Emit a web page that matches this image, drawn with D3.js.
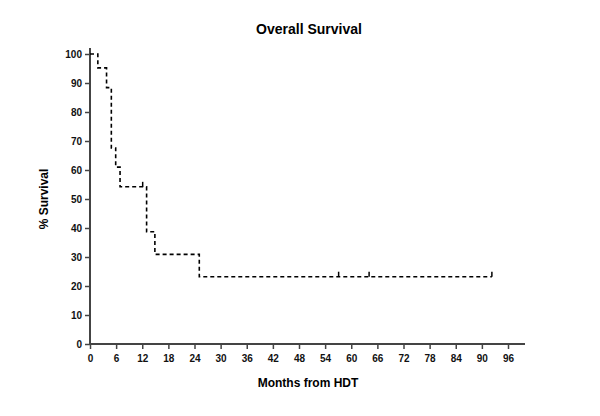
<!DOCTYPE html>
<html><head><meta charset="utf-8">
<script src="https://cdn.jsdelivr.net/npm/d3@7"></script>
<style>body{margin:0;background:#fff}svg{display:block}</style>
</head><body>
<script>
// Kaplan-Meier step data (months, % survival)
const stepMonths = [0, 1.8, 3.8, 4.9, 5.9, 6.9, 13.0, 14.9, 25.1];
const stepSurvival = [100, 95.2, 88.4, 67.6, 61.0, 54.2, 38.7, 30.9, 23.2];
const endMonth = 92.3;
const censorMonths = [12.1, 57.1, 64.1, 92.3];
const censorSurvival = [54.2, 23.2, 23.2, 23.2];
const xTicks = d3.range(0, 97, 6);
const yTicks = d3.range(0, 101, 10);

const W = 600, H = 416;
const svg = d3.select("body").append("svg").attr("width", W).attr("height", H);
const x = d3.scaleLinear().domain([0, 96]).range([90, 508]);
const y = d3.scaleLinear().domain([0, 100]).range([344, 54]);
const font = "Liberation Sans, Arial, sans-serif";

// axes
const xAxis = svg.append("g").attr("transform", "translate(0,344)")
  .call(d3.axisBottom(x).tickValues(xTicks).tickSize(5).tickSizeOuter(0));
xAxis.select(".domain").attr("d", `M${x(0)},0H525`);
const yAxis = svg.append("g").attr("transform", "translate(90,0)")
  .call(d3.axisLeft(y).tickValues(yTicks).tickSize(5).tickSizeOuter(0));
yAxis.select(".domain").attr("d", `M0,${y(0)}V${y(100)-6}`);
[xAxis, yAxis].forEach(g => {
  g.selectAll(".domain").attr("stroke", "#444").attr("stroke-width", 2);
  g.selectAll(".tick line").attr("stroke", "#444").attr("stroke-width", 1.5);
  g.selectAll("text").attr("font-family", font).attr("font-size", 10)
    .attr("font-weight", "bold").attr("fill", "#111");
});
xAxis.selectAll("text").attr("dy", "0.95em");

// step curve
const pts = stepMonths.map((m, i) => [m, stepSurvival[i]]);
pts.push([endMonth, stepSurvival[stepSurvival.length - 1]]);
const line = d3.line().x(d => x(d[0])).y(d => y(d[1])).curve(d3.curveStepAfter);
svg.append("path").attr("d", line(pts)).attr("fill", "none")
  .attr("stroke", "#000").attr("stroke-width", 1.6).attr("stroke-dasharray", "4,3");

// censor ticks
svg.selectAll(".cens").data(censorMonths).enter().append("line")
  .attr("x1", d => x(d)).attr("x2", d => x(d))
  .attr("y1", (d, i) => y(censorSurvival[i]))
  .attr("y2", (d, i) => y(censorSurvival[i]) - 5)
  .attr("stroke", "#000").attr("stroke-width", 1.5);

// titles
svg.append("text").attr("x", 309).attr("y", 34).attr("text-anchor", "middle")
  .attr("font-family", font).attr("font-size", 14).attr("font-weight", "bold")
  .text("Overall Survival");
svg.append("text").attr("x", 308).attr("y", 387).attr("text-anchor", "middle")
  .attr("font-family", font).attr("font-size", 12).attr("font-weight", "bold")
  .text("Months from HDT");
svg.append("text").attr("transform", "translate(48,199) rotate(-90)")
  .attr("text-anchor", "middle")
  .attr("font-family", font).attr("font-size", 12).attr("font-weight", "bold")
  .text("% Survival");
</script>
</body></html>
